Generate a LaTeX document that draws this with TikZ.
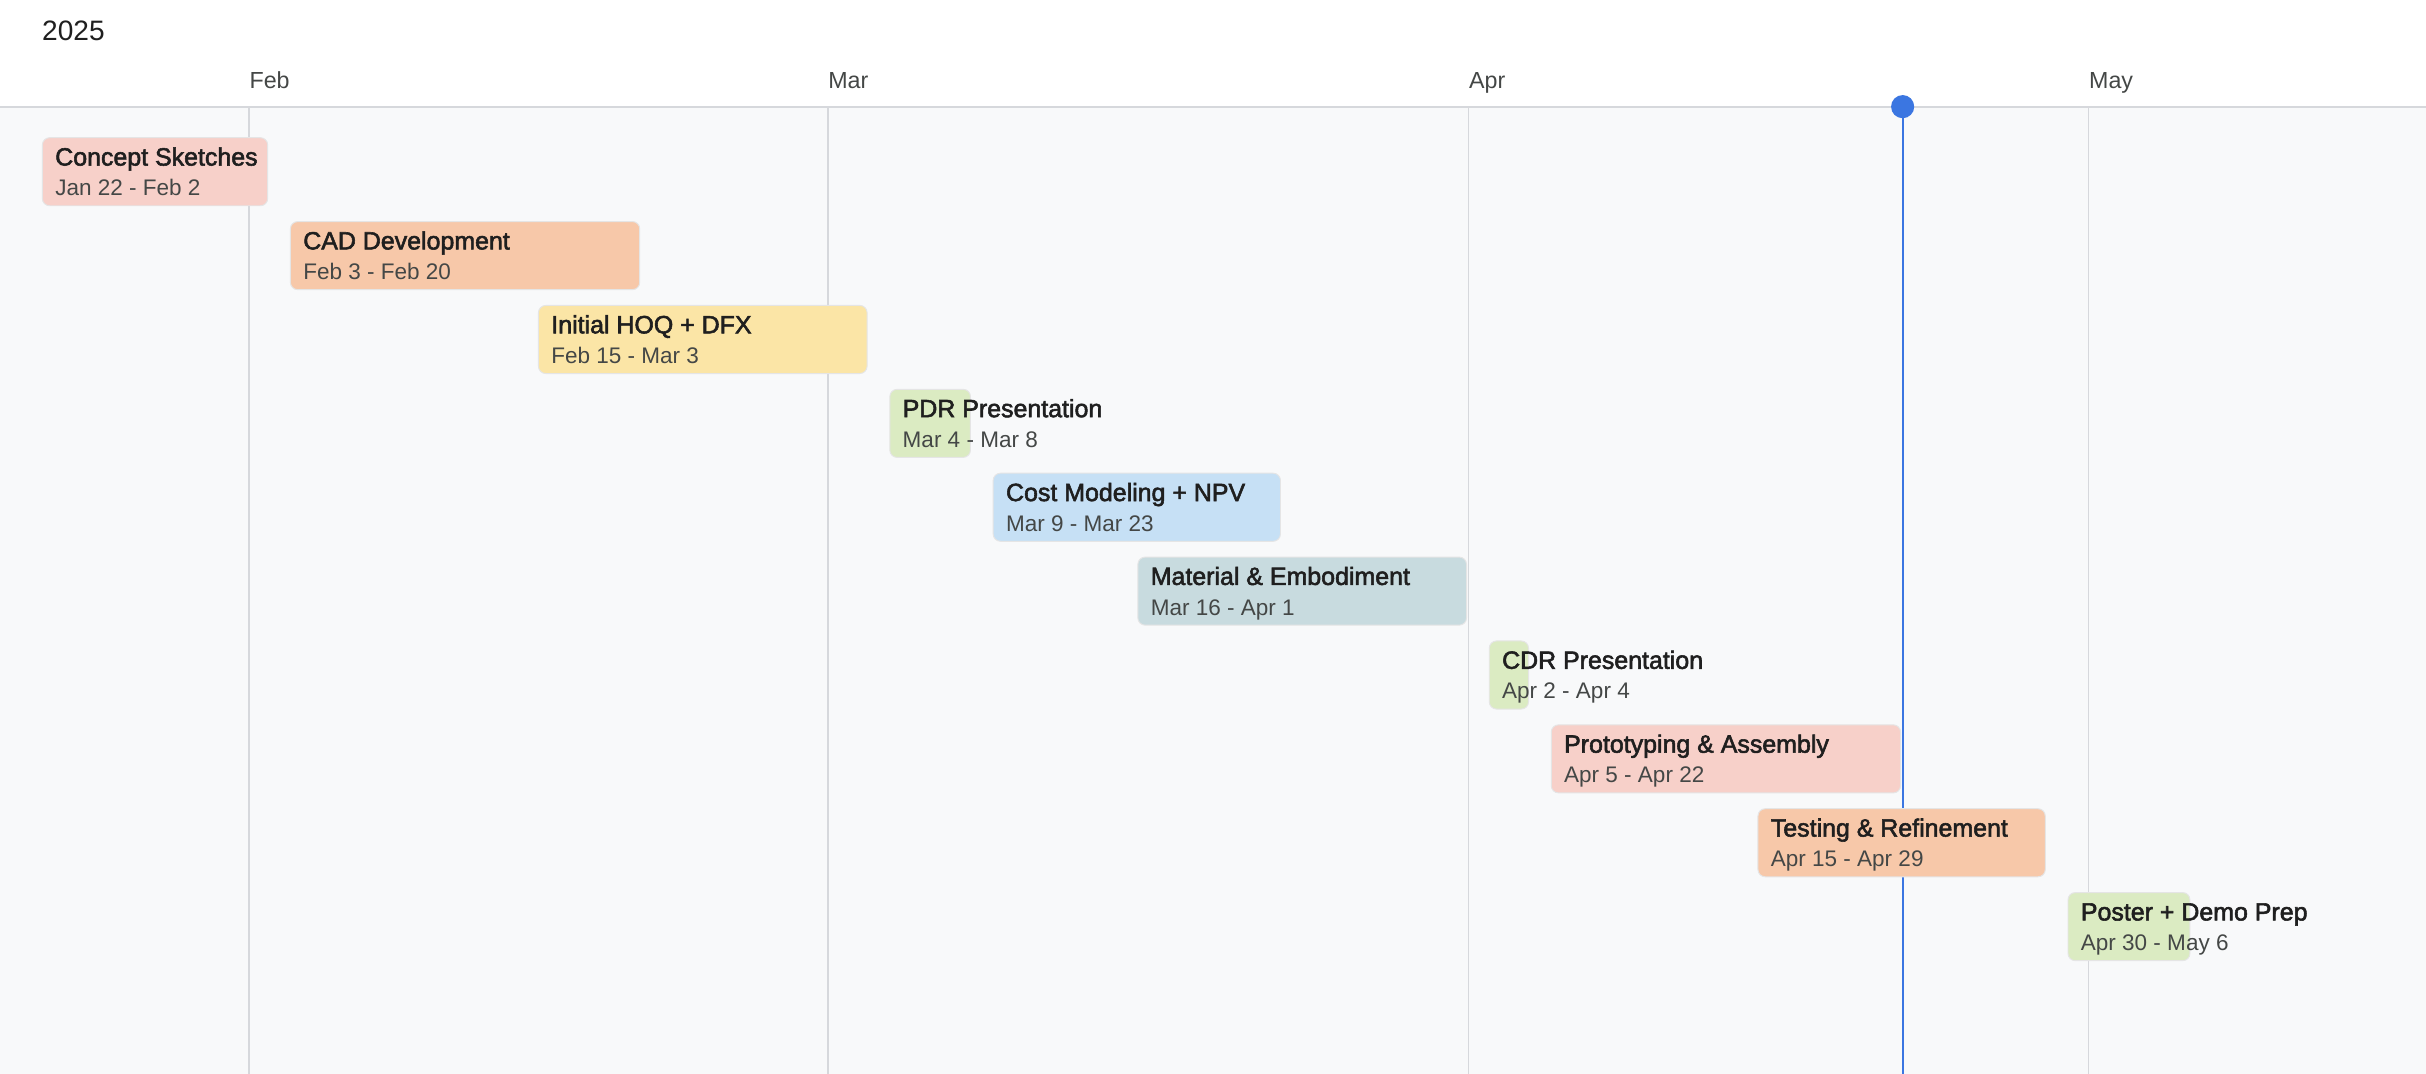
\documentclass[tikz,border=0pt]{standalone}
\usepackage{fontspec}
\setmainfont{Liberation Sans}
\newfontfamily\titlefont[FakeBold=2.2]{Liberation Sans}

\definecolor{bggray}{HTML}{F8F9FA}
\definecolor{gridgray}{HTML}{D6D8DC}
\definecolor{todayblue}{HTML}{3B76E1}
\definecolor{titlegray}{HTML}{1F1F1F}
\definecolor{dategray}{HTML}{444746}
\definecolor{tskpink}{HTML}{F7D0C9}
\definecolor{tskpeach}{HTML}{F7C8A9}
\definecolor{tskyellow}{HTML}{FBE5A6}
\definecolor{tskgreen}{HTML}{DBEBC2}
\definecolor{tskblue}{HTML}{C6E0F5}
\definecolor{tskslate}{HTML}{C8DBDF}

\tikzset{
    gridline/.style={draw=gridgray, line width=0.6pt},
    bar/.style={rounded corners=3pt, draw=black!10, line width=0.4pt},
    tasktitle/.style={anchor=base west, inner sep=0pt, text=titlegray,
        font=\titlefont\fontsize{10.3}{12}\selectfont},
    taskdates/.style={anchor=base west, inner sep=0pt, text=dategray,
        font=\fontsize{9.3}{11}\selectfont},
    month/.style={anchor=base west, inner sep=0pt, text=dategray,
        font=\fontsize{9.6}{11}\selectfont},
}

\begin{document}
\begin{tikzpicture}[x=0.3cm, y=0.3cm]
    \useasboundingbox (-12.05,-51.95) rectangle (105.32,0);
    \fill[white] (-12.05,-51.95) rectangle (105.32,0);
    \fill[bggray] (-12.05,-51.95) rectangle (105.32,-5.16);
    \draw[draw=gridgray, line width=0.8pt] (-12.05,-5.16) -- (105.32,-5.16);

    % year and months (x = days from Feb 1)
    \node[anchor=base west, inner sep=0pt, text=titlegray, font=\fontsize{11.6}{13}\selectfont] (year) at (-10.03,-1.94) {2025};
    \node[month] (feb) at (0,-4.27) {Feb};
    \node[month] (mar) at (28,-4.27) {Mar};
    \node[month] (apr) at (59,-4.27) {Apr};
    \node[month] (may) at (89,-4.27) {May};
    \draw[gridline] (0,-5.16) -- (0,-51.95);
    \draw[gridline] (28,-5.16) -- (28,-51.95);
    \draw[gridline] (59,-5.16) -- (59,-51.95);
    \draw[gridline] (89,-5.16) -- (89,-51.95);

    % today marker
    \coordinate (today) at (80,-5.16);
    \coordinate (todayend) at (80,-51.95);
    \draw[todayblue, line width=0.7pt] (today) -- (todayend);
    \fill[todayblue] (today) circle (0.168cm);

    % tasks
    \draw[bar, fill=tskpink] (-10,-6.662) rectangle (0.9,-9.955);
    \node[tasktitle] (t1) at (-9.4,-8.009) {Concept Sketches};
    \node[taskdates] (d1) at (-9.4,-9.469) {Jan 22 - Feb 2};

    \draw[bar, fill=tskpeach] (2,-10.72) rectangle (18.9,-14.013);
    \node[tasktitle] (t2) at (2.6,-12.067) {CAD Development};
    \node[taskdates] (d2) at (2.6,-13.527) {Feb 3 - Feb 20};

    \draw[bar, fill=tskyellow] (14,-14.778) rectangle (29.9,-18.071);
    \node[tasktitle] (t3) at (14.6,-16.125) {Initial HOQ + DFX};
    \node[taskdates] (d3) at (14.6,-17.585) {Feb 15 - Mar 3};

    \draw[bar, fill=tskgreen] (31,-18.836) rectangle (34.9,-22.129);
    \node[tasktitle] (t4) at (31.6,-20.183) {PDR Presentation};
    \node[taskdates] (d4) at (31.6,-21.643) {Mar 4 - Mar 8};

    \draw[bar, fill=tskblue] (36,-22.894) rectangle (49.9,-26.187);
    \node[tasktitle] (t5) at (36.6,-24.241) {Cost Modeling + NPV};
    \node[taskdates] (d5) at (36.6,-25.701) {Mar 9 - Mar 23};

    \draw[bar, fill=tskslate] (43,-26.952) rectangle (58.9,-30.245);
    \node[tasktitle] (t6) at (43.6,-28.299) {Material \& Embodiment};
    \node[taskdates] (d6) at (43.6,-29.759) {Mar 16 - Apr 1};

    \draw[bar, fill=tskgreen] (60,-31.01) rectangle (61.9,-34.303);
    \node[tasktitle] (t7) at (60.6,-32.357) {CDR Presentation};
    \node[taskdates] (d7) at (60.6,-33.817) {Apr 2 - Apr 4};

    \draw[bar, fill=tskpink] (63,-35.068) rectangle (79.9,-38.361);
    \node[tasktitle] (t8) at (63.6,-36.415) {Prototyping \& Assembly};
    \node[taskdates] (d8) at (63.6,-37.875) {Apr 5 - Apr 22};

    \draw[bar, fill=tskpeach] (73,-39.126) rectangle (86.9,-42.419);
    \node[tasktitle] (t9) at (73.6,-40.473) {Testing \& Refinement};
    \node[taskdates] (d9) at (73.6,-41.933) {Apr 15 - Apr 29};

    \draw[bar, fill=tskgreen] (88,-43.184) rectangle (93.9,-46.477);
    \node[tasktitle] (t10) at (88.6,-44.531) {Poster + Demo Prep};
    \node[taskdates] (d10) at (88.6,-45.991) {Apr 30 - May 6};
\end{tikzpicture}
\end{document}
